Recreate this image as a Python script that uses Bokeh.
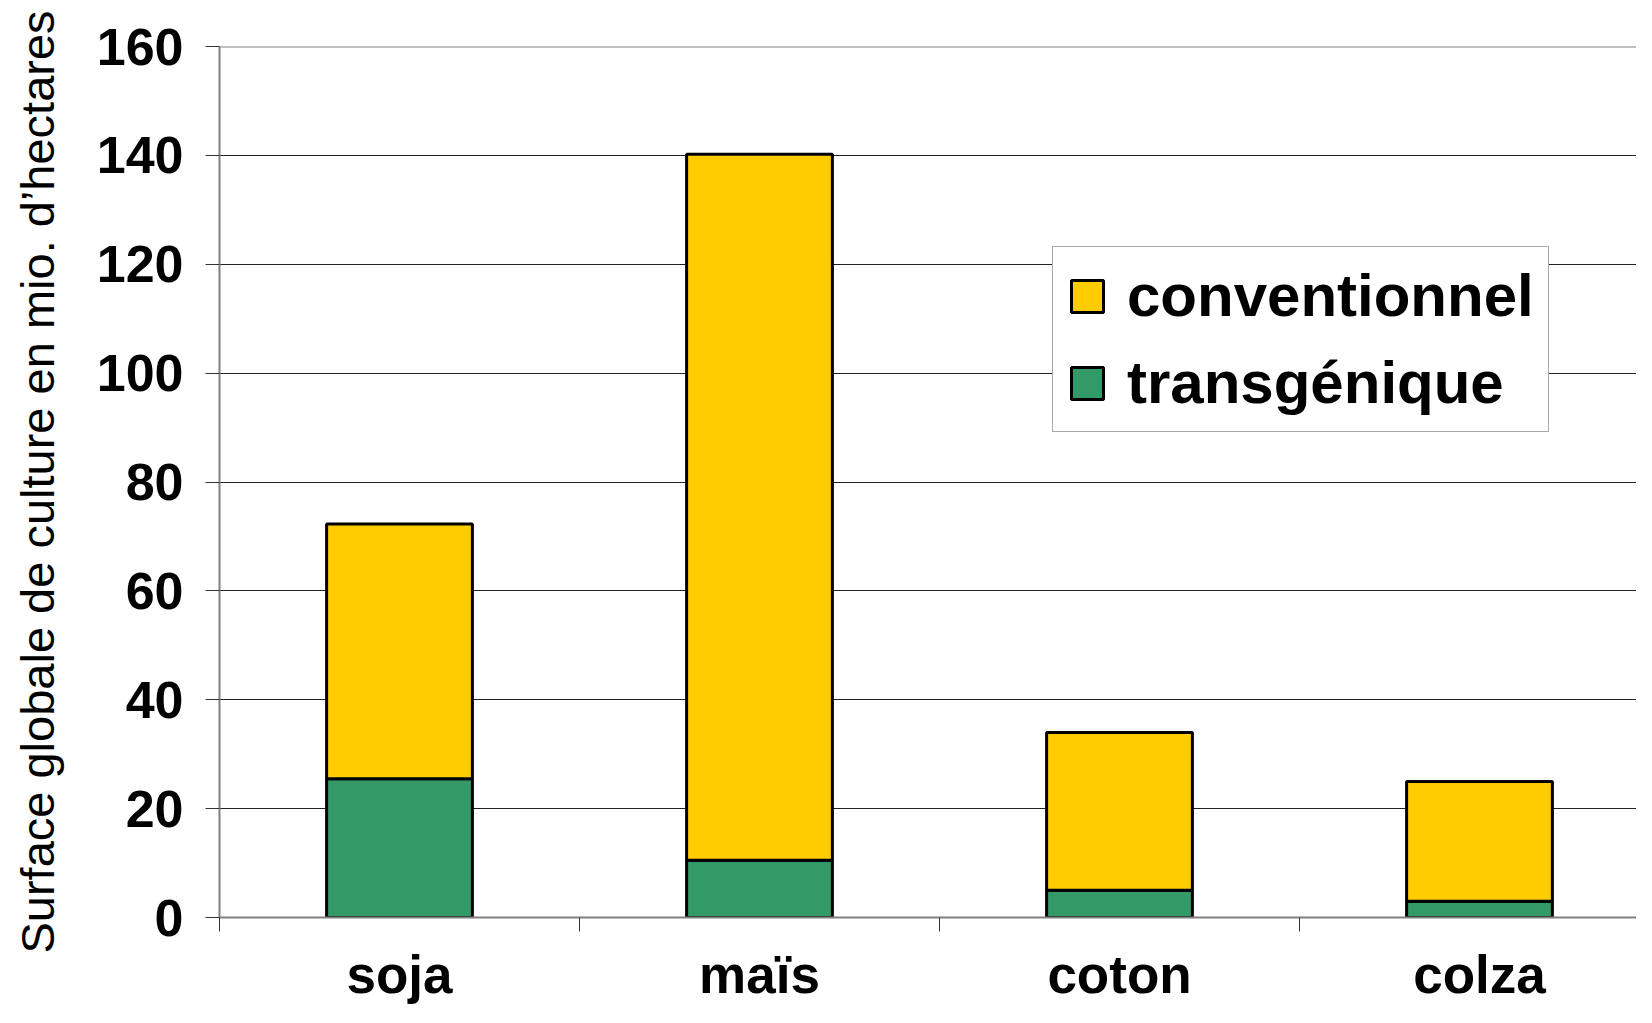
from bokeh.plotting import figure
from bokeh.models import (ColumnDataSource, Range1d, FixedTicker, Legend, LegendItem, Span)
from bokeh.embed import file_html
from bokeh.resources import INLINE

# ---- data ----
categories = ["soja", "maïs", "coton", "colza"]
transgenique = [25.5, 10.5, 5.0, 3.0]
total = [72.3, 140.2, 34.0, 25.0]
conventionnel = [t - g for t, g in zip(total, transgenique)]
y_ticks = [0, 20, 40, 60, 80, 100, 120, 140, 160]
y_max = 160
series_labels = ["conventionnel", "transgénique"]
colors = {"conventionnel": "#FFCC00", "transgénique": "#339966"}

FONT = "Liberation Sans"

x_pos = [i + 0.5 for i in range(len(categories))]
boundaries = list(range(len(categories) + 1))

src = ColumnDataSource(dict(x=x_pos, transgenique=transgenique, conventionnel=conventionnel))

p = figure(width=1636, height=1007, output_backend="svg", toolbar_location=None,
           x_range=Range1d(0, 1417 / 360), y_range=Range1d(0, y_max),
           min_border_left=219, min_border_right=0, min_border_top=46, min_border_bottom=90)
p.outline_line_color = None
p.background_fill_color = "white"

rs = p.vbar_stack(["transgenique", "conventionnel"], x="x", width=0.405, source=src,
                  color=[colors["transgénique"], colors["conventionnel"]],
                  line_color="black", line_width=3)

# top border line at axis max
p.add_layout(Span(location=y_max, dimension="width", line_color="#808080", line_width=2))

# y axis
p.yaxis.ticker = FixedTicker(ticks=y_ticks)
p.yaxis.major_label_text_font = FONT
p.yaxis.major_label_text_font_style = "bold"
p.yaxis.major_label_text_font_size = "52px"
p.yaxis.major_label_text_color = "black"
p.yaxis.major_tick_out = 14
p.yaxis.major_tick_in = 0
p.yaxis.major_tick_line_color = "#333333"
p.yaxis.minor_tick_line_color = None
p.yaxis.axis_line_color = "#808080"
p.yaxis.axis_line_width = 2
p.yaxis.major_label_standoff = 22
p.yaxis.axis_label = "Surface globale de culture en mio. d\u2019hectares"
p.yaxis.axis_label_text_font = FONT
p.yaxis.axis_label_text_font_style = "normal"
p.yaxis.axis_label_text_font_size = "47px"
p.yaxis.axis_label_text_color = "black"
p.yaxis.axis_label_standoff = 30

# x axis
p.xaxis.ticker = FixedTicker(ticks=x_pos, minor_ticks=boundaries)
p.xaxis.major_label_overrides = {x: c for x, c in zip(x_pos, categories)}
p.xaxis.major_label_text_font = FONT
p.xaxis.major_label_text_font_style = "bold"
p.xaxis.major_label_text_font_size = "53px"
p.xaxis.major_label_text_color = "black"
p.xaxis.major_tick_out = 0
p.xaxis.major_tick_in = 0
p.xaxis.minor_tick_out = 14
p.xaxis.minor_tick_in = 0
p.xaxis.minor_tick_line_color = "#333333"
p.xaxis.axis_line_color = "#808080"
p.xaxis.axis_line_width = 2
p.xaxis.major_label_standoff = 13

# grid
p.xgrid.grid_line_color = None
p.ygrid.ticker = FixedTicker(ticks=y_ticks[:-1])
p.ygrid.grid_line_color = "#222222"
p.ygrid.grid_line_width = 1

# legend
legend = Legend(items=[LegendItem(label=series_labels[0], renderers=[rs[1]]),
                       LegendItem(label=series_labels[1], renderers=[rs[0]])],
                location=(833, 485))
legend.label_text_font = FONT
legend.label_text_font_style = "bold"
legend.label_text_font_size = "60px"
legend.label_text_color = "black"
legend.glyph_width = 40
legend.glyph_height = 40
legend.label_standoff = 20
legend.spacing = 18
legend.padding = 14
legend.margin = 0
legend.border_line_color = "#555555"
legend.border_line_width = 1
legend.background_fill_color = "white"
legend.background_fill_alpha = 1
p.add_layout(legend, "center")

open("out.html", "w").write(file_html(p, INLINE))
